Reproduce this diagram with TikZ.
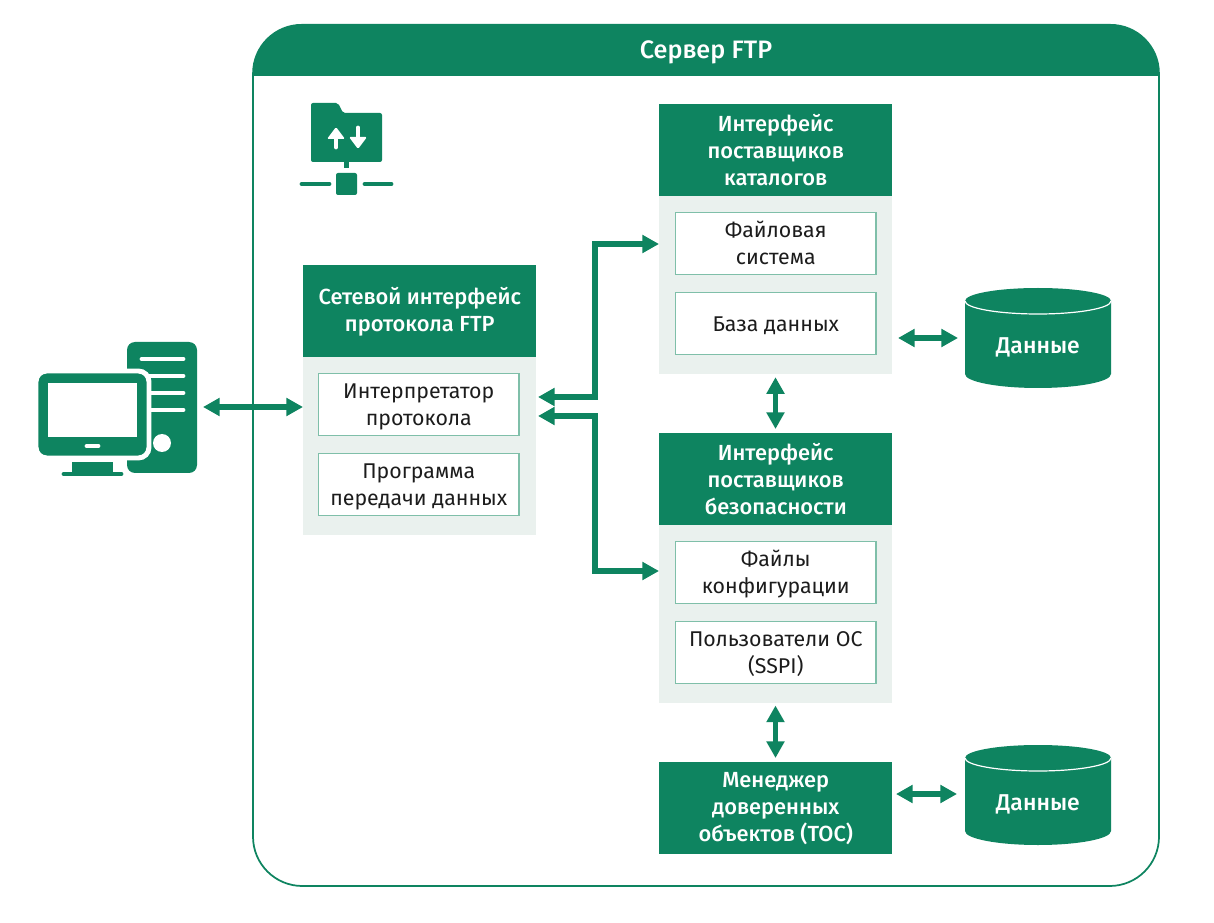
\documentclass[tikz,border=0pt]{standalone}
\usepackage{fontspec}
\setmainfont{Fira Sans}[BoldFont={Fira Sans Medium}]
\usetikzlibrary{arrows.meta}
\definecolor{grn}{HTML}{0E8460}
\definecolor{pale}{HTML}{EAF1EE}
\definecolor{edgegrn}{HTML}{7FBFA9}
\definecolor{ink}{HTML}{1C1C1C}
\tikzset{
  x=0.75pt,y=-0.75pt,
  headbox/.style={fill=grn,text=white,minimum width=174.75pt,minimum height=69pt,inner sep=0pt,align=center,font=\fontsize{16.4}{20.25}\selectfont\bfseries,anchor=north west},
  panelbox/.style={fill=pale,minimum width=174.75pt,inner sep=0pt,anchor=north west},
  itembox/.style={draw=edgegrn,line width=0.9pt,fill=white,minimum width=150.25pt,minimum height=46.5pt,inner sep=0pt,anchor=north west},
  itemtext/.style={text=ink,inner sep=0pt,align=center,font=\fontsize{16}{20.25}\selectfont,yshift=-1.5pt},
  dbl/.style={draw=grn,line width=4.4pt,{Triangle[length=12.5pt,width=13pt]}-{Triangle[length=12.5pt,width=13pt]}},
  cyllabel/.style={text=white,font=\fontsize{17.2}{20}\selectfont\bfseries,inner sep=0pt},
  icobar/.style={draw=grn,line width=3.7pt,line cap=round},
  wbar/.style={draw=white,line width=3.7pt,line cap=round},
}
\newcommand{\itm}[4][]{\node[itembox,label={[itemtext,#1]center:{#4}}] (#2) at (#3) {};}
\newcommand{\dbcyl}[2]{%
  \fill[grn] (965,#1) arc[x radius=73,y radius=13,start angle=180,end angle=360] -- (1111,#1+73) arc[x radius=73,y radius=14,start angle=0,end angle=180] -- cycle;
  \draw[white,line width=0.9pt] (965,#1) arc[x radius=73,y radius=13,start angle=180,end angle=0];
  \node[cyllabel] (#2) at (1038,#1+46.5) {Данные};
}
\begin{document}
\begin{tikzpicture}
\useasboundingbox (0,0) rectangle (1214,923);
\fill[white] (0,0) rectangle (1214,923);
% frame
\draw[grn,line width=1.3pt,rounded corners=37pt] (253,75) -- (253,886) -- (1159,886) -- (1159,75);
\fill[grn] (252.2,76) [rounded corners=37pt] -- (252.2,24) -- (1159.8,24) [sharp corners] -- (1159.8,76) -- cycle;
\node[text=white,font=\fontsize{18.9}{20}\selectfont\bfseries,inner sep=0pt] (title) at (706,52.5) {Сервер FTP};
% folder icon
\fill[grn,rounded corners=1.5pt] (311,162) -- (311,103) -- (338,103) -- (343,113) -- (382,113) -- (382,162) -- cycle;
\fill[grn] (344,162) rectangle (349,168);
\fill[grn,rounded corners=1.5pt] (336,173) rectangle (357,195);
\draw[icobar] (302,184) -- (329,184);
\draw[icobar] (365,184) -- (391,184);
\draw[wbar] (336,134) -- (336,147);
\fill[white,rounded corners=1pt] (336,127) -- (345,139) -- (327,139) -- cycle;
\draw[wbar] (358,128) -- (358,140);
\fill[white,rounded corners=1pt] (358,149) -- (349,137) -- (367,137) -- cycle;
% computer
\fill[grn,rounded corners=6pt] (127,342) rectangle (197,473);
\foreach \yy in {359,376,393,410} \draw[wbar] (142,\yy) -- (183,\yy);
\fill[white] (162,443) circle[radius=9];
\fill[grn,rounded corners=8pt,draw=white,line width=3.7pt] (36,371) rectangle (149,458);
\fill[white] (48,383) rectangle (137,437);
\draw[wbar] (87,446) -- (98,446);
\fill[grn] (72,462) rectangle (113,472);
\draw[icobar] (64,474) -- (121,474);
\coordinate (pc) at (203,407);
% panels
\node[panelbox,minimum height=202pt] (netpanel) at (303,265) {};
\node[headbox] (nethead) at (303,265) {Сетевой интерфейс\\протокола FTP};
\itm{interp}{318,373}{Интерпретатор\\протокола}
\itm{prog}{318,453}{Программа\\передачи данных}
\node[panelbox,minimum height=202.5pt] (catpanel) at (659,104) {};
\node[headbox] (cathead) at (659,103.5) {Интерфейс\\поставщиков\\каталогов};
\itm[yshift=1.8pt]{fs}{675,212}{Файловая\\система}
\itm{db}{675,292}{База данных}
\node[panelbox,minimum height=202pt] (secpanel) at (659,433) {};
\node[headbox] (sechead) at (659,433) {Интерфейс\\поставщиков\\безопасности};
\itm[yshift=0.4pt]{conf}{675,541}{Файлы\\конфигурации}
\itm[yshift=0.7pt]{users}{675,621}{Пользователи ОС\\(SSPI)}
\node[headbox] (toc) at (659,762) {Менеджер\\доверенных\\объектов (TOC)};
\dbcyl{301}{data1}
\dbcyl{758}{data2}
\coordinate (db1l) at (898,338);
\coordinate (db1r) at (958,338);
\coordinate (db2l) at (896,794);
\coordinate (db2r) at (957,794);
\coordinate (netA) at (538,397);
\coordinate (netB) at (538,416);
\coordinate (catIn) at (659,244);
\coordinate (secIn) at (659,571);
\coordinate (busX) at (595,397);
\coordinate (v1) at (775.5,433);
\coordinate (v2) at (775.5,762);
% connectors
\draw[dbl] (pc) -- (netpanel.west |- pc);
\draw[dbl] (netA) -- (busX) -- (busX |- catIn) -- (catIn);
\draw[dbl] (netB) -- (busX |- netB) -- (busX |- secIn) -- (secIn);
\draw[dbl,shorten <=2pt,shorten >=3pt] (v1 |- catpanel.south) -- (v1);
\draw[dbl,shorten <=2pt,shorten >=3pt] (v2 |- secpanel.south) -- (v2);
\draw[dbl] (db1l) -- (db1r);
\draw[dbl] (db2l) -- (db2r);
\end{tikzpicture}
\end{document}
